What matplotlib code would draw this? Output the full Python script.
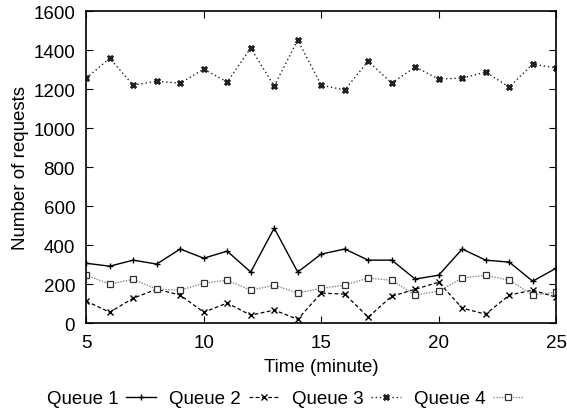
import matplotlib.pyplot as plt

plt.rcParams['font.family'] = ['Liberation Sans', 'DejaVu Sans']

minutes = list(range(5, 26))
queue1 = [307, 292, 323, 303, 380, 333, 369, 262, 487, 262, 354, 380, 323, 323, 226, 246, 380, 323, 313, 215, 282]
queue2 = [113, 56, 128, 174, 144, 56, 103, 41, 67, 20, 154, 149, 31, 138, 174, 210, 77, 46, 144, 169, 133]
queue3 = [1255, 1358, 1220, 1240, 1230, 1302, 1236, 1410, 1215, 1451, 1220, 1195, 1343, 1230, 1313, 1251, 1256, 1287, 1210, 1328, 1308]
queue4 = [246, 200, 225, 174, 169, 205, 220, 169, 195, 154, 179, 195, 231, 220, 144, 164, 231, 246, 220, 144, 159]

fig = plt.figure(figsize=(5.67, 4.14), dpi=100)
ax = fig.add_axes([0.152, 0.217, 0.829, 0.754])

ax.plot(minutes, queue1, color='black', linestyle='-', linewidth=1,
        marker='+', markersize=5, markeredgewidth=1, label='Queue 1')
ax.plot(minutes, queue2, color='black', linestyle=(0, (3, 2)), linewidth=0.9,
        marker='x', markersize=4.5, markeredgewidth=1, label='Queue 2')
ax.plot(minutes, queue3, color='#222222', linestyle=(0, (1, 2)), linewidth=1,
        marker=(4, 2, 45), markersize=5, markeredgewidth=1.8, label='Queue 3')
ax.plot(minutes, queue4, color='#888888', linestyle=(0, (1, 1)), linewidth=1,
        marker='s', markersize=5, markerfacecolor='white', markeredgecolor='#333333',
        markeredgewidth=0.9, label='Queue 4')

ax.set_xlim(5, 25)
ax.set_ylim(0, 1600)
ax.set_xticks([5, 10, 15, 20, 25])
ax.set_yticks(range(0, 1601, 200))
ax.tick_params(direction='in', top=True, right=True, length=5, labelsize=13.5, pad=8)
for s in ax.spines.values():
    s.set_linewidth(1.2)

ax.set_xlabel('Time (minute)', fontsize=13.5, labelpad=5)
ax.set_ylabel('Number of requests', fontsize=13.5, labelpad=3)

ax.legend(loc='upper center', bbox_to_anchor=(0.423, -0.19), ncol=4, frameon=False,
          markerfirst=False, fontsize=13.5, handlelength=1.6, handletextpad=0.4,
          columnspacing=0.7, borderaxespad=0)

fig.savefig('out.png', dpi=100)
